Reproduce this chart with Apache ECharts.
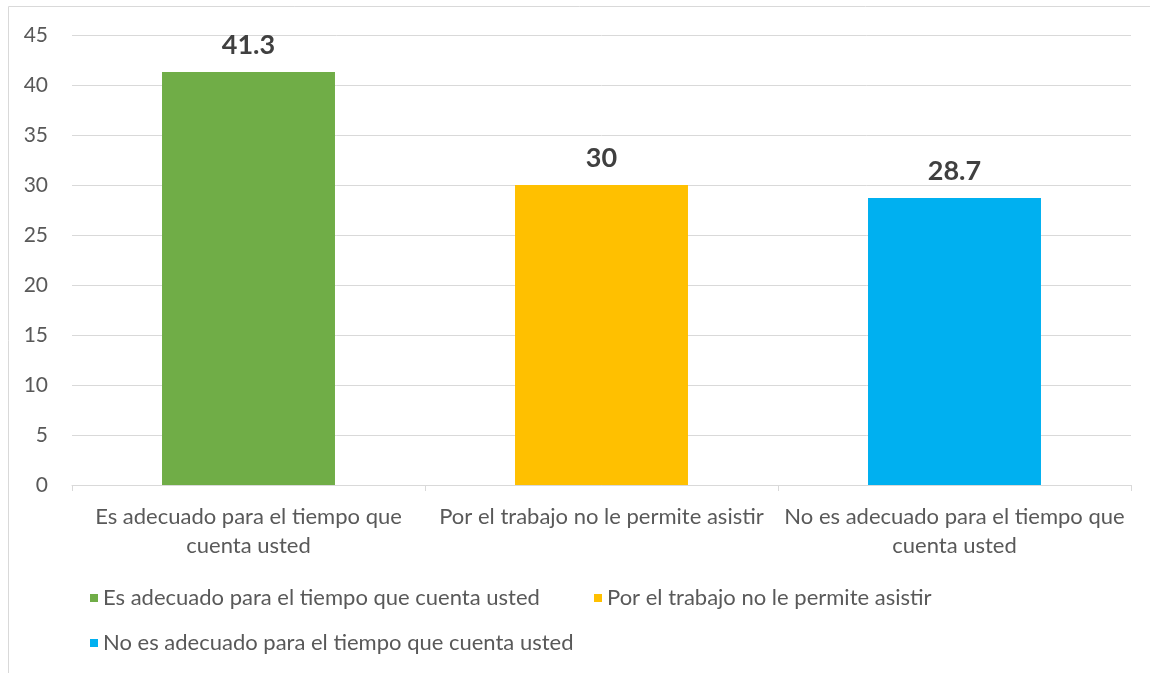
<!DOCTYPE html>
<html>
<head>
<meta charset="utf-8">
<script src="https://cdn.jsdelivr.net/npm/echarts@6/dist/echarts.min.js"></script>
<style>
  html, body { margin: 0; padding: 0; background: #fff; }
  #chart { width: 1150px; height: 673px; }
</style>
</head>
<body>
<div id="chart"></div>
<script>
    // datos
    const categorias = [
        'Es adecuado para el tiempo que cuenta usted',
        'Por el trabajo no le permite asistir',
        'No es adecuado para el tiempo que cuenta usted'
    ];
    const etiquetasX = [
        'Es adecuado para el tiempo que\ncuenta usted',
        'Por el trabajo no le permite asistir',
        'No es adecuado para el tiempo que\ncuenta usted'
    ];
    const valores = [41.3, 30, 28.7];
    const colores = ['#70ad47', '#ffc000', '#00b0f0'];

    const fuente = 'Lato';
    const myChart = echarts.init(document.getElementById('chart'));

    // una serie por categoria, apiladas para que queden centradas
    const series = categorias.map(function (nombre, i) {
        return {
            name: nombre,
            type: 'bar',
            stack: 'total',
            barWidth: '49%',
            data: categorias.map(function (c, j) { return j === i ? valores[i] : '-'; }),
            itemStyle: { color: colores[i] },
            label: {
                show: true,
                position: 'top',
                distance: 13,
                fontFamily: fuente,
                fontSize: 27,
                fontWeight: 'bold',
                color: '#404040'
            }
        };
    });

    const legendBase = {
        icon: 'rect',
        itemWidth: 8,
        itemHeight: 8,
        itemGap: 10,
        padding: 0,
        textStyle: { fontFamily: fuente, fontSize: 22, color: '#595959' }
    };

    const option = {
        animation: false,
        color: colores,
        graphic: [{
            type: 'rect',
            shape: { x: 8.5, y: 6.5, width: 1160, height: 700 },
            style: { fill: 'none', stroke: '#d9d9d9', lineWidth: 1 },
            silent: true
        }],
        grid: { left: 72, right: 19, top: 35, bottom: 188 },
        legend: [
            Object.assign({ left: 90, top: 587, data: [categorias[0]] }, legendBase),
            Object.assign({ left: 594, top: 587, data: [categorias[1]] }, legendBase),
            Object.assign({ left: 90, top: 632, data: [categorias[2]] }, legendBase)
        ],
        xAxis: {
            type: 'category',
            data: categorias,
            axisLine: { lineStyle: { color: '#d9d9d9' } },
            axisTick: { show: true, length: 6, lineStyle: { color: '#d9d9d9' } },
            axisLabel: {
                margin: 17,
                interval: 0,
                fontFamily: fuente,
                fontSize: 22,
                lineHeight: 29,
                color: '#595959',
                formatter: function (v, idx) { return etiquetasX[idx]; }
            }
        },
        yAxis: {
            type: 'value',
            min: 0,
            max: 45,
            interval: 5,
            axisLine: { show: false },
            axisTick: { show: false },
            splitLine: { lineStyle: { color: '#d9d9d9', width: 1 } },
            axisLabel: {
                margin: 24,
                fontFamily: fuente,
                fontSize: 21,
                color: '#595959'
            }
        },
        series: series
    };

    myChart.setOption(option);
</script>
</body>
</html>
